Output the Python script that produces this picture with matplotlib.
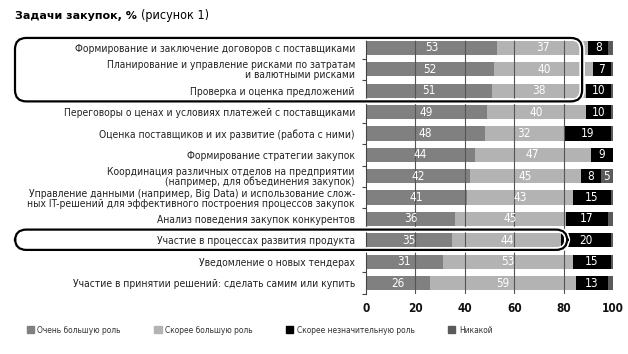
import numpy as np
import matplotlib.pyplot as plt
from matplotlib.patches import FancyBboxPatch, Patch

plt.rcParams['font.family'] = ['DejaVu Sans']
plt.rcParams['font.stretch'] = 'condensed'

tasks = ['Формирование и заключение договоров с поставщиками',
         'Планирование и управление рисками по затратам\nи валютными рисками',
         'Проверка и оценка предложений',
         'Переговоры о ценах и условиях платежей с поставщиками',
         'Оценка поставщиков и их развитие (работа с ними)',
         'Формирование стратегии закупок',
         'Координация различных отделов на предприятии\n(например, для объединения закупок)',
         'Управление данными (например, Big Data) и использование слож-\nных IT-решений для эффективного построения процессов закупок',
         'Анализ поведения закупок конкурентов',
         'Участие в процессах развития продукта',
         'Уведомление о новых тендерах',
         'Участие в принятии решений: сделать самим или купить']

very_big = [53, 52, 51, 49, 48, 44, 42, 41, 36, 35, 31, 26]
rather_big = [37, 40, 38, 40, 32, 47, 45, 43, 45, 44, 53, 59]
rather_small = [8, 7, 10, 10, 19, 9, 8, 15, 17, 20, 15, 13]
none_role = [2, 1, 1, 1, 1, 0, 5, 1, 2, 1, 1, 2]

series = [('Очень большую роль', very_big, '#808080'),
          ('Скорее большую роль', rather_big, '#b3b3b3'),
          ('Скорее незначительную роль', rather_small, '#000000'),
          ('Никакой', none_role, '#5a5a5a')]

fig = plt.figure(figsize=(6.28, 3.54), dpi=100)
ax = fig.add_axes([366 / 628, 1 - 293.7 / 354, 247 / 628, 256.4 / 354])

y = np.arange(len(tasks))
left = np.zeros(len(tasks))
for name, vals, col in series:
    vals = np.array(vals, dtype=float)
    ax.barh(y, vals, left=left, height=0.66, color=col, label=name, zorder=1)
    for yi, v, l in zip(y, vals, left):
        if v >= 5:
            ax.text(l + v / 2, yi, str(int(v)), ha='center', va='center',
                    color='white', fontsize=8.5, zorder=3)
    left += vals

ax.set_xlim(0, 100)
ax.set_ylim(len(tasks) - 0.5, -0.5)
ax.set_xticks([0, 20, 40, 60, 80, 100])
ax.tick_params(axis='x', length=0, labelsize=8.5, pad=6, labelcolor='#111111')
for lab in ax.get_xticklabels():
    lab.set_fontweight('bold')
for gx in [20, 40, 60, 80]:
    ax.axvline(gx, color='#555555', lw=0.8, zorder=2)

ax.set_yticks(y)
ax.set_yticklabels(tasks, fontsize=7.4, color='#222222', linespacing=1.0)
ax.set_yticks(np.arange(len(tasks) + 1) - 0.5, minor=True)
ax.tick_params(axis='y', which='major', length=0, pad=8)
ax.tick_params(axis='y', which='minor', length=3, color='#444444', width=0.8)
for s in ['top', 'right', 'bottom']:
    ax.spines[s].set_visible(False)
ax.spines['left'].set_color('#444444')
ax.spines['left'].set_linewidth(0.8)

# rounded frames around highlighted rows
inv = fig.transFigure.inverted()
def frame(row0, row1, xr):
    x0 = 15 / 628
    _, ytop = inv.transform(ax.transData.transform((0, row0)))
    xright, ybot = inv.transform(ax.transData.transform((xr, row1)))
    for lw, c in [(4, 'white'), (1.6, 'black')]:
        p = FancyBboxPatch((x0, ybot), xright - x0, ytop - ybot,
                           boxstyle='round,pad=0,rounding_size=0.018',
                           transform=fig.transFigure, fill=False,
                           lw=lw, ec=c, zorder=5, mutation_aspect=628 / 354)
        fig.add_artist(p)

frame(-0.47, 2.5, 87.5)
frame(8.5, 9.45, 81.5)

t1 = fig.text(15 / 628, 1 - 16 / 354, 'Задачи закупок, %', fontsize=8, fontweight='bold',
              fontstretch='normal', va='center')
fig.canvas.draw()
bb = inv.transform(t1.get_window_extent())
fig.text(bb[1, 0] + 4 / 628, 1 - 16 / 354, '(рисунок 1)', fontsize=9, va='center')

handles = [Patch(color=c, label=n) for n, _, c in series]
fig.legend(handles=handles, loc='center left', bbox_to_anchor=(19 / 628, 1 - 330 / 354),
           ncol=4, frameon=False, fontsize=6.0, handlelength=0.9, handleheight=0.9,
           handletextpad=0.4, columnspacing=4.0, labelcolor='#333333')

fig.savefig('out.png', dpi=100)
